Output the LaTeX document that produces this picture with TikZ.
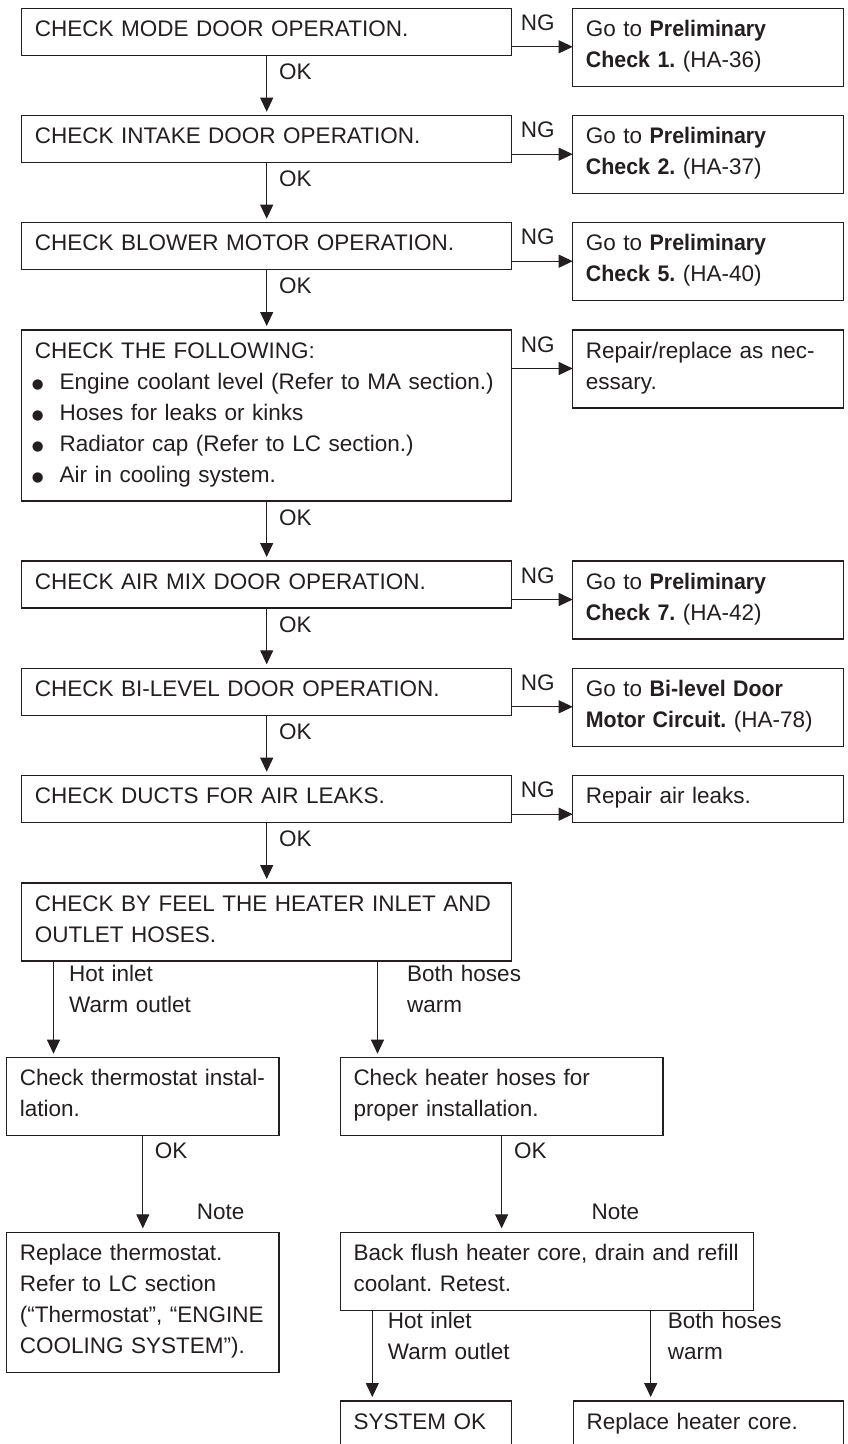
\documentclass[tikz,border=0pt]{standalone}
\usepackage{fontspec}
\setmainfont{Liberation Sans}[BoldFeatures={FakeStretch=0.95}]
\newfontfamily\symfont{DejaVu Sans}
\usetikzlibrary{arrows.meta}
\definecolor{ink}{HTML}{231F20}
\newcommand{\bul}{\makebox[24.8pt][l]{\hspace{-3pt}\raisebox{0.5pt}{\symfont\fontsize{13.5}{13.5}\selectfont ●}}}
\frenchspacing
\begin{document}
\begin{tikzpicture}[x=1pt,y=-1pt,
  mainbox/.style={draw=ink, line width=1.1pt, inner sep=0pt, outer sep=0pt, anchor=north west, minimum width=490pt},
  ngbox/.style={draw=ink, line width=1.1pt, inner sep=0pt, outer sep=0pt, anchor=north west, minimum width=270.6pt},
  anybox/.style={draw=ink, line width=1.1pt, inner sep=0pt, outer sep=0pt, anchor=north west},
  txt/.style={text=ink, font=\fontsize{22.5}{31}\selectfont\frenchspacing, inner sep=0pt, anchor=base west, align=left, text width=480pt},
  arr/.style={draw=ink, line width=1pt, -{Triangle[length=14pt,width=13pt]}},
  varr/.style={arr, shorten >=4pt}
]
\useasboundingbox (0,0) rectangle (847,1444);
\clip (0,0) rectangle (847,1444);
\fill[white] (0,0) rectangle (847,1444);

% main column
\node[mainbox, minimum height=47pt] (b1) at (21.7,8.3) {};
\node[mainbox, minimum height=47pt] (b2) at (21.7,115.7) {};
\node[mainbox, minimum height=47pt] (b3) at (21.7,222.7) {};
\node[mainbox, minimum height=171pt] (b4) at (21.7,330) {};
\node[mainbox, minimum height=47pt] (b5) at (21.7,561) {};
\node[mainbox, minimum height=47pt] (b6) at (21.7,668.3) {};
\node[mainbox, minimum height=47pt] (b7) at (21.7,775.7) {};
\node[mainbox, minimum height=78pt] (b8) at (21.7,883) {};

\node[txt] (t1) at ([shift={(13,28)}]b1.north west) {CHECK MODE DOOR OPERATION.};
\node[txt] (t2) at ([shift={(13,28)}]b2.north west) {CHECK INTAKE DOOR OPERATION.};
\node[txt] (t3) at ([shift={(13,28)}]b3.north west) {CHECK BLOWER MOTOR OPERATION.};
\node[txt] (t4) at ([shift={(13,28)}]b4.north west) {CHECK THE FOLLOWING:\\
\bul Engine coolant level (Refer to MA section.)\\
\bul Hoses for leaks or kinks\\
\bul Radiator cap (Refer to LC section.)\\
\bul Air in cooling system.};
\node[txt] (t5) at ([shift={(13,28)}]b5.north west) {CHECK AIR MIX DOOR OPERATION.};
\node[txt] (t6) at ([shift={(13,28)}]b6.north west) {CHECK BI-LEVEL DOOR OPERATION.};
\node[txt] (t7) at ([shift={(13,28)}]b7.north west) {CHECK DUCTS FOR AIR LEAKS.};
\node[txt] (t8) at ([shift={(13,28)}]b8.north west) {CHECK BY FEEL THE HEATER INLET AND\\OUTLET HOSES.};

% NG column
\node[ngbox, minimum height=78pt] (n1) at (572.7,8.3) {};
\node[ngbox, minimum height=78pt] (n2) at (572.7,115.7) {};
\node[ngbox, minimum height=78pt] (n3) at (572.7,222.7) {};
\node[ngbox, minimum height=78pt] (n4) at (572.7,330) {};
\node[ngbox, minimum height=78pt] (n5) at (572.7,561) {};
\node[ngbox, minimum height=78pt] (n6) at (572.7,668.3) {};
\node[ngbox, minimum height=47pt] (n7) at (572.7,775.7) {};

\node[txt] (m1) at ([shift={(13,28)}]n1.north west) {Go to \textbf{Preliminary}\\\textbf{Check 1.} (HA-36)};
\node[txt] (m2) at ([shift={(13,28)}]n2.north west) {Go to \textbf{Preliminary}\\\textbf{Check 2.} (HA-37)};
\node[txt] (m3) at ([shift={(13,28)}]n3.north west) {Go to \textbf{Preliminary}\\\textbf{Check 5.} (HA-40)};
\node[txt] (m4) at ([shift={(13,28)}]n4.north west) {Repair/replace as nec-\\essary.};
\node[txt] (m5) at ([shift={(13,28)}]n5.north west) {Go to \textbf{Preliminary}\\\textbf{Check 7.} (HA-42)};
\node[txt] (m6) at ([shift={(13,28)}]n6.north west) {Go to \textbf{Bi-level Door}\\\textbf{Motor Circuit.} (HA-78)};
\node[txt] (m7) at ([shift={(13,28)}]n7.north west) {Repair air leaks.};

% NG arrows and labels
\foreach \i in {1,...,7}{
  \draw[arr] ([shift={(0,38.5)}]b\i.north east) -- ([shift={(0,38.5)}]n\i.north west);
  \node[txt] (g\i) at ([shift={(9,22)}]b\i.north east) {NG};
}

% OK arrows main column
\foreach \i/\j in {1/2,2/3,3/4,4/5,5/6,6/7,7/8}{
  \draw[varr] (b\i.south) -- (b\j.north);
  \node[txt] (k\i) at ([shift={(12.3,24)}]b\i.south) {OK};
}

% lower boxes
\node[anybox, minimum width=272.3pt, minimum height=78pt] (c1) at (6.7,1057.7) {};
\node[anybox, minimum width=322.7pt, minimum height=78pt] (c2) at (340.3,1057.7) {};
\node[anybox, minimum width=272.3pt, minimum height=140pt] (r1) at (6.7,1232.3) {};
\node[anybox, minimum width=413.2pt, minimum height=78pt] (r2) at (340.3,1232.3) {};
\node[anybox, minimum width=171.4pt, minimum height=70pt] (s1) at (340.3,1401) {};
\node[anybox, minimum width=270pt, minimum height=70pt] (s2) at (573.3,1401) {};

\node[txt] (tc1) at ([shift={(13,28)}]c1.north west) {Check thermostat instal-\\lation.};
\node[txt] (tc2) at ([shift={(13,28)}]c2.north west) {Check heater hoses for\\proper installation.};
\node[txt] (tr1) at ([shift={(13,28)}]r1.north west) {Replace thermostat.\\Refer to LC section\\(“Thermostat”, “ENGINE\\COOLING SYSTEM”).};
\node[txt] (tr2) at ([shift={(13,28)}]r2.north west) {Back flush heater core, drain and refill\\coolant. Retest.};
\node[txt] (ts1) at ([shift={(13,28)}]s1.north west) {SYSTEM OK};
\node[txt] (ts2) at ([shift={(13,28)}]s2.north west) {Replace heater core.};

% branches from b8
\coordinate (b8L) at ([xshift=31.8pt]b8.south west);
\coordinate (b8R) at ([xshift=355.8pt]b8.south west);
\draw[varr] (b8L) -- (b8L |- c1.north);
\draw[varr] (b8R) -- (b8R |- c2.north);
\node[txt] (h1) at ([shift={(15.5,20.3)}]b8L) {Hot inlet\\Warm outlet};
\node[txt] (h2) at ([shift={(29.5,20.3)}]b8R) {Both hoses\\warm};

% c -> r
\draw[varr] (c1.south) -- (c1.south |- r1.north);
\draw[varr] (c2.south) -- (c2.south |- r2.north);
\node[txt] (k8) at ([shift={(11.7,22.3)}]c1.south) {OK};
\node[txt] (k9) at ([shift={(12.3,22.3)}]c2.south) {OK};
\node[txt] (o1) at ([shift={(190,-13.3)}]r1.north west) {Note};
\node[txt] (o2) at ([shift={(251.2,-13.3)}]r2.north west) {Note};

% r2 -> s
\coordinate (r2L) at ([xshift=32pt]r2.south west);
\coordinate (r2R) at ([xshift=310.4pt]r2.south west);
\draw[varr] (r2L) -- (r2L |- s1.north);
\draw[varr] (r2R) -- (r2R |- s2.north);
\node[txt] (h3) at ([shift={(15.4,18.3)}]r2L) {Hot inlet\\Warm outlet};
\node[txt] (h4) at ([shift={(17,18.3)}]r2R) {Both hoses\\warm};
\end{tikzpicture}
\end{document}
